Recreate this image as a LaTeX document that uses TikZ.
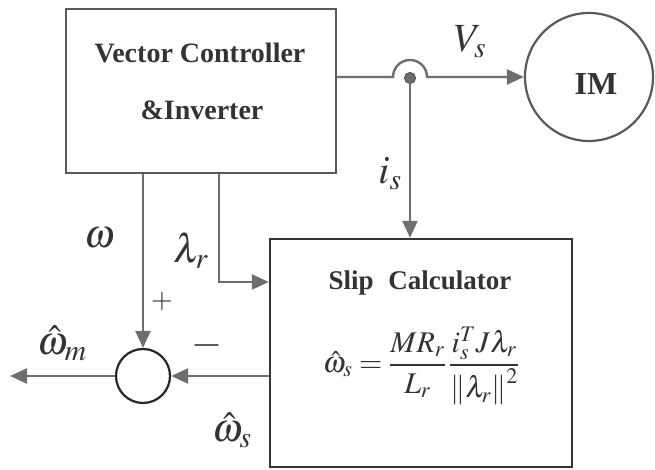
\documentclass[tikz,border=0pt]{standalone}
\usepackage{mathptmx}
\usepackage[no-math]{fontspec}
\setmainfont{Liberation Serif}
\usetikzlibrary{arrows.meta,calc}
\definecolor{ln}{HTML}{6E6E6E}
\definecolor{bx}{HTML}{5A5A5A}
\definecolor{tx}{HTML}{333333}
\tikzset{
  blk/.style={draw=bx, line width=2.4pt, rectangle, inner sep=0pt},
  wire/.style={draw=ln, line width=2.4pt},
  arr/.style={wire, -{Triangle[length=17pt,width=15pt]}, color=ln},
  lbl/.style={text=tx, font=\fontsize{40}{44}\selectfont, inner sep=0pt},
  btxt/.style={text=tx, font=\fontsize{28}{32}\selectfont\bfseries, inner sep=0pt},
}
\begin{document}
\begin{tikzpicture}[x=1pt,y=1pt]
\useasboundingbox[fill=white] (0,0) rectangle (655,470);
% blocks
\node[blk, minimum width=270pt, minimum height=164pt] (vc) at (201,379) {};
\node[blk, draw=black!80, minimum width=302pt, minimum height=228pt] (slip) at (421,117) {};
\node[draw=bx, line width=2.2pt, circle, minimum size=128pt, inner sep=0pt] (im) at (589,393) {};
\node[draw=black!85, line width=2.2pt, circle, minimum size=54pt, inner sep=0pt] (sum) at (143,94) {};
% texts in blocks
\node[btxt] (t1) at (200,417) {Vector Controller};
\node[btxt] (t2) at (202,360) {\&Inverter};
\node[btxt, font=\fontsize{32}{36}\selectfont\bfseries] (imt) at (596,386) {IM};
\node[btxt, font=\fontsize{27}{32}\selectfont\bfseries] (t3) at (420,187) {Slip\hspace{0.3em} Calculator};
\node[text=tx, font=\fontsize{30}{34}\selectfont, inner sep=0pt] (eq) at (421,104)
  {$\displaystyle \hat{\omega}_s = \frac{MR_r}{L_r}\,\frac{i_s^T J\lambda_r}{\left\|\lambda_r\right\|^2}$};
% coordinates
\coordinate (jl) at (393,393);
\coordinate (lamy) at (219,188);
\coordinate (out) at (10,94);
% connectors
\draw[arr] (vc.east |- im.west) -- (jl) arc[start angle=180,end angle=0,radius=17pt] -- (im.west);
\node[circle, fill=ln, draw=ln!70!black, line width=1pt, minimum size=11pt, inner sep=0pt] (dot) at (410,392) {};
\draw[arr] (dot.center) -- (dot.center |- slip.north);
\draw[arr] (sum.north |- vc.south) -- (sum.north);
\draw[arr] (lamy |- vc.south) -- (lamy) -- (slip.west |- lamy);
\draw[arr] (slip.west |- sum.east) -- (sum.east);
\draw[arr] (sum.west) -- (out);
% labels
\node[lbl] (vs) at (470,428) {$V_s$};
\node[lbl] (is) at (390,296) {$i_s$};
\node[lbl] (w) at (100,232) {$\omega$};
\node[lbl] (lr) at (191,219) {$\lambda_r$};
\node[text=tx, font=\fontsize{28}{32}\selectfont, inner sep=0pt] (plus) at (162,168) {$+$};
\node[text=tx, font=\fontsize{40}{44}\selectfont, inner sep=0pt] (minus) at (207,124) {$-$};
\node[lbl] (wm) at (62,127) {$\hat{\omega}_m$};
\node[lbl] (ws) at (232,40) {$\hat{\omega}_s$};
\end{tikzpicture}
\end{document}
